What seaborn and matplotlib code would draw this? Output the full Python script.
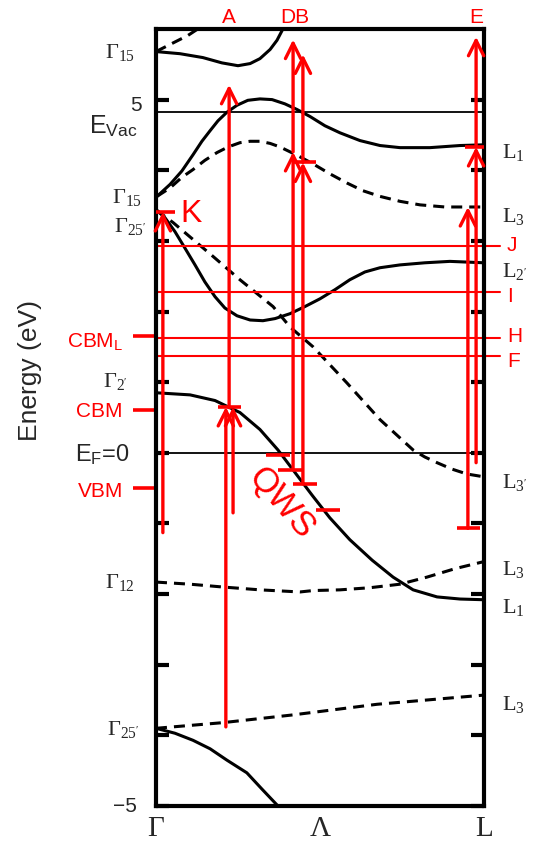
import matplotlib
matplotlib.use("Agg")
import matplotlib.pyplot as plt
import numpy as np
import pandas as pd
import seaborn as sns

# ---------------- band structure along Γ–Λ–L ----------------
# k: 0 = Γ, 0.5 = Λ, 1 = L ; energies in eV relative to E_F
band_top_solid_k = [0.0, 0.073, 0.143, 0.201, 0.25, 0.287, 0.317, 0.348, 0.369, 0.387, 0.402]
band_top_solid_E = [5.68, 5.65, 5.595, 5.52, 5.48, 5.51, 5.58, 5.71, 5.84, 6.0, 6.12]

band_top_dash_k = [0.0, 0.098, 0.134]
band_top_dash_E = [5.68, 5.91, 6.02]

band_l1_k = [0.003, 0.043, 0.079, 0.113, 0.140, 0.165, 0.189, 0.216, 0.247, 0.280, 0.317, 0.354,
             0.393, 0.430, 0.470, 0.515, 0.561, 0.622, 0.683, 0.744, 0.835, 0.927, 1.0]
band_l1_E = [3.63, 3.80, 3.99, 4.22, 4.41, 4.56, 4.70, 4.82, 4.92, 4.99, 5.01, 5.00,
             4.94, 4.86, 4.76, 4.63, 4.53, 4.42, 4.35, 4.32, 4.32, 4.35, 4.36]

band_l3_k = [0.003, 0.043, 0.079, 0.113, 0.149, 0.186, 0.220, 0.256, 0.287, 0.317, 0.348, 0.378,
             0.409, 0.439, 0.479, 0.530, 0.582, 0.631, 0.683, 0.744, 0.805, 0.881, 1.0]
band_l3_E = [3.63, 3.75, 3.90, 4.01, 4.14, 4.25, 4.33, 4.39, 4.41, 4.41, 4.38, 4.33,
             4.26, 4.19, 4.09, 3.95, 3.82, 3.71, 3.63, 3.56, 3.51, 3.48, 3.48]

band_l2p_k = [0.003, 0.027, 0.058, 0.088, 0.119, 0.149, 0.180, 0.210, 0.247, 0.287, 0.326, 0.363,
              0.409, 0.454, 0.5, 0.546, 0.591, 0.637, 0.683, 0.744, 0.820, 0.896, 1.0]
band_l2p_E = [3.43, 3.33, 3.13, 2.90, 2.66, 2.42, 2.21, 2.05, 1.94, 1.88, 1.87, 1.90,
              1.97, 2.07, 2.18, 2.31, 2.45, 2.56, 2.62, 2.66, 2.69, 2.71, 2.69]

band_l3p_k = [0.0, 0.052, 0.174, 0.256, 0.357, 0.409, 0.479, 0.582, 0.683, 0.784, 0.820, 0.857,
              0.902, 0.948, 1.0]
band_l3p_E = [3.44, 3.26, 2.78, 2.45, 2.07, 1.78, 1.50, 0.99, 0.47, 0.04, -0.06, -0.14,
              -0.23, -0.30, -0.34]

band_sp_k = [0.0, 0.104, 0.180, 0.256, 0.317, 0.372, 0.424, 0.476, 0.530, 0.591, 0.659, 0.723,
             0.784, 0.857, 0.927, 1.0]
band_sp_E = [0.85, 0.82, 0.74, 0.57, 0.33, 0.04, -0.28, -0.60, -0.92, -1.23, -1.52, -1.76,
             -1.94, -2.04, -2.07, -2.08]

band_g12_k = [0.0, 0.104, 0.204, 0.317, 0.439, 0.479, 0.561, 0.652, 0.744, 0.826, 0.912, 1.0]
band_g12_E = [-1.83, -1.86, -1.90, -1.94, -1.97, -1.95, -1.94, -1.91, -1.86, -1.76, -1.64, -1.54]

band_d_k = [0.0, 0.204, 0.418, 0.674, 1.0]
band_d_E = [-3.90, -3.82, -3.71, -3.56, -3.43]

band_low_k = [0.0, 0.058, 0.113, 0.165, 0.216, 0.277, 0.323, 0.372]
band_low_E = [-3.90, -3.97, -4.07, -4.19, -4.35, -4.53, -4.76, -5.0]

bands = [
    ("top_solid", band_top_solid_k, band_top_solid_E, "solid"),
    ("top_dash", band_top_dash_k, band_top_dash_E, "dashed"),
    ("L1", band_l1_k, band_l1_E, "solid"),
    ("L3", band_l3_k, band_l3_E, "dashed"),
    ("L2p", band_l2p_k, band_l2p_E, "solid"),
    ("L3p", band_l3p_k, band_l3p_E, "dashed"),
    ("sp", band_sp_k, band_sp_E, "solid"),
    ("G12", band_g12_k, band_g12_E, "dashed"),
    ("d", band_d_k, band_d_E, "dashed"),
    ("low", band_low_k, band_low_E, "solid"),
]

# ---------------- reference levels ----------------
E_vac = 4.82
E_fermi = 0.0
level_names = ["J", "I", "H", "F"]
level_E = [2.93, 2.27, 1.63, 1.37]
level_label_E = [2.86, 2.14, 1.57, 1.22]

edge_names = ["CBM$_\\mathsf{L}$", "CBM", "VBM"]
edge_E = [1.66, 0.61, -0.50]
edge_label_E = [1.50, 0.50, -0.62]

# ---------------- transitions (k, start, end) ----------------
arrow_k = [0.021, 0.213, 0.235, 0.223, 0.418, 0.418, 0.448, 0.448, 0.951, 0.976, 0.976]
arrow_from = [-1.13, -3.88, -0.85, 0.64, -0.24, 4.26, -0.44, 4.11, -1.07, -0.14, 4.33]
arrow_to = [3.41, 0.65, 0.65, 5.21, 4.26, 5.85, 4.11, 5.64, 3.48, 4.33, 5.89]

# end caps on the transitions
cap_k = [0.023, 0.224, 0.454, 0.977, 0.953]
cap_E = [3.41, 0.65, 4.11, 4.33, -1.07]

# quantum-well state levels
qws_k = [0.372, 0.409, 0.454, 0.524]
qws_E = [-0.03, -0.24, -0.44, -0.81]

# transition names above the frame
trans_names = ["A", "DB", "E"]
trans_k = [0.223, 0.424, 0.976]

# symmetry labels at Γ (left) and L (right): text, baseline energy
gamma_labels = ["Γ$_{15}$", "Γ$_{15}$", "Γ$_{25'}$", "Γ$_{2'}$", "Γ$_{12}$", "Γ$_{25'}$"]
gamma_label_E = [5.595, 3.54, 3.12, 0.93, -1.91, -3.99]
gamma_label_x = [-0.064, -0.043, -0.028, -0.085, -0.064, -0.049]

l_labels = ["L$_{1}$", "L$_{3}$", "L$_{2'}$", "L$_{3'}$", "L$_{3}$", "L$_{1}$", "L$_{3}$"]
l_label_E = [4.18, 3.27, 2.49, -0.50, -1.73, -2.27, -3.64]

kpoint_names = ["Γ", "Λ", "L"]
kpoint_pos = [0.0, 0.5, 1.0]

# ---------------- style ----------------
sns.set_style("white")
plt.rcParams["font.family"] = ["Liberation Sans", "DejaVu Sans"]
plt.rcParams["mathtext.fontset"] = "custom"
plt.rcParams["mathtext.rm"] = "Liberation Serif"
plt.rcParams["mathtext.sf"] = "Liberation Sans"
plt.rcParams["mathtext.it"] = "Liberation Serif:italic"

RED = "#ff0000"
SERIF = ["Liberation Serif", "DejaVu Serif"]

fig = plt.figure(figsize=(5.34, 8.47), dpi=100)
ax = fig.add_axes([0.2921, 0.0484, 0.6142, 0.9174])

rows = []
for name, ks, Es, kind in bands:
    for k, e in zip(ks, Es):
        rows.append({"band": name, "k": k, "E": e, "kind": kind})
df = pd.DataFrame(rows)

sns.lineplot(data=df, x="k", y="E", units="band", estimator=None, style="kind",
             dashes={"solid": "", "dashed": (3.6, 2.3)}, color="black",
             lw=2.2, legend=False, sort=False, ax=ax)
for ln in ax.lines:
    ln.set_solid_joinstyle("round")

# vacuum and Fermi levels
ax.axhline(E_vac, color="black", lw=1.3, zorder=1)
ax.axhline(E_fermi, color="black", lw=1.3, zorder=1)

ytr = ax.get_yaxis_transform()

# red reference levels extending past the right frame
for name, e, le in zip(level_names, level_E, level_label_E):
    ax.plot([0, 1.049], [e, e], color=RED, lw=1.5, transform=ytr, clip_on=False, zorder=2)
    ax.text(1.07, le, name, color=RED, fontsize=15, transform=ytr,
            ha="left", va="baseline")

# band-edge marks on the left
for name, e, le in zip(edge_names, edge_E, edge_label_E):
    ax.plot([-0.070, -0.003], [e, e], color=RED, lw=2.6, transform=ytr,
            clip_on=False, solid_capstyle="butt")
    ax.text(-0.101, le, name, color=RED, fontsize=15, transform=ytr,
            ha="right", va="baseline")

# transitions
for k, e0, e1 in zip(arrow_k, arrow_from, arrow_to):
    ax.annotate("", xy=(k, e1), xytext=(k, e0),
                arrowprops=dict(arrowstyle="->,head_length=1.1,head_width=0.55",
                                color=RED, lw=2.4, shrinkA=0, shrinkB=0,
                                mutation_scale=10), zorder=4)

ax.hlines(cap_E, np.array(cap_k) - 0.035, np.array(cap_k) + 0.035,
          color=RED, lw=2.6, zorder=4)
ax.hlines(qws_E, np.array(qws_k) - 0.037, np.array(qws_k) + 0.037,
          color=RED, lw=2.6, zorder=4)

for name, k in zip(trans_names, trans_k):
    ax.text(k, 6.09, name, color=RED, fontsize=15, ha="center", va="baseline")

ax.text(0.073, 3.27, "K", color=RED, fontsize=23, ha="left", va="baseline")
ax.text(0.384, -0.71, "QWS", color=RED, fontsize=25, rotation=-49,
        rotation_mode="anchor", ha="center", va="center")

# symmetry labels
for lab, e, x in zip(gamma_labels, gamma_label_E, gamma_label_x):
    ax.text(x, e, lab, fontsize=16, family=SERIF, transform=ytr,
            ha="right", va="baseline")
for lab, e in zip(l_labels, l_label_E):
    ax.text(1.055, e, lab, fontsize=16, family=SERIF, transform=ytr,
            ha="left", va="baseline")

ax.text(-0.055, 4.52, "E$_{\\mathsf{Vac}}$", fontsize=18, transform=ytr,
        ha="right", va="baseline")
ax.text(-0.079, -0.13, "E$_{\\mathsf{F}}$=0", fontsize=17, transform=ytr,
        ha="right", va="baseline")
ax.text(-0.043, 4.84, "5", fontsize=15, transform=ytr, ha="right", va="baseline")
ax.text(-0.058, -5.08, "\u22125", fontsize=15, transform=ytr, ha="right", va="baseline")

ax.set_ylabel("Energy (eV)", fontsize=19, va="center")
ax.yaxis.set_label_coords(-0.384, 0.561)
ax.set_xlabel("")

# axes frame and ticks
ax.set_xlim(0, 1)
ax.set_ylim(-5, 6)
ax.set_yticks(range(-5, 6))
ax.set_yticklabels([])
ax.tick_params(axis="y", direction="in", length=9.5, width=3, left=True, right=True,
               labelleft=False, color="black")
ax.set_xticks(kpoint_pos)
ax.set_xticklabels(kpoint_names, fontsize=21, family=SERIF)
ax.tick_params(axis="x", length=0, pad=7)
for sp in ax.spines.values():
    sp.set_linewidth(3)
    sp.set_color("black")

fig.savefig("out.png", dpi=100)
